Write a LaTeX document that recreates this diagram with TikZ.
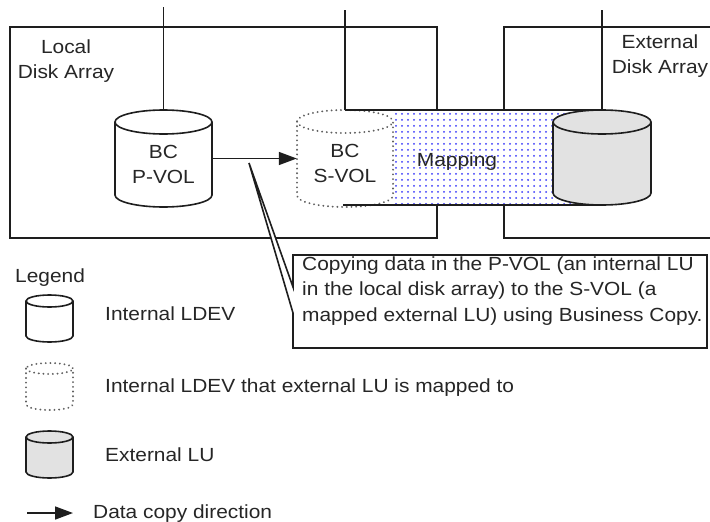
\documentclass[tikz,border=0pt]{standalone}
\usepackage{fontspec}
\setmainfont{Liberation Sans}[FakeStretch=1.1]
\usetikzlibrary{arrows.meta,patterns.meta}
\definecolor{extgray}{RGB}{226,226,226}
\definecolor{dotblue}{RGB}{55,55,250}
\definecolor{lncol}{RGB}{30,30,30}
\definecolor{dotgray}{RGB}{95,95,95}
% cylinder outline: #1 cx, #2 top, #3 bottom, #4 rx, #5 ry, #6 style
\newcommand\drawcyl[6]{%
  \draw[#6] (#1-#4,#2+#5) -- (#1-#4,#3-#5)
    arc[start angle=180,end angle=0,x radius=#4,y radius=#5]
    -- (#1+#4,#2+#5)
    arc[start angle=0,end angle=-180,x radius=#4,y radius=#5] -- cycle;
  \draw[#6,fill=none] (#1-#4,#2+#5)
    arc[start angle=180,end angle=0,x radius=#4,y radius=#5];
}
\begin{document}
\begin{tikzpicture}[x=1pt,y=-1pt,
  every node/.style={font=\fontsize{19}{25.5}\selectfont, text=black!85, inner sep=0pt},
  ln/.style={draw=lncol, line width=1.6pt},
  solidcyl/.style={ln, fill=white},
  extcyl/.style={ln, fill=extgray},
  dotcyl/.style={draw=dotgray, line width=2pt, dash pattern=on 0.1pt off 4.6pt, line cap=round, fill=white},
  cylarea/.style={minimum width=#1, minimum height=97pt, inner sep=0pt},
  arr/.style={ln, -{Triangle[length=18pt,width=13pt]}},
  lbl/.style={anchor=base west},
  mlbl/.style={anchor=north, align=center}
]
\useasboundingbox (0,0) rectangle (710,522);
\fill[white] (0,0) rectangle (710,522);

% disk array boxes
\draw[ln] (10,27) rectangle (437,238);
\draw[ln] (720,27) -- (504,27) -- (504,238) -- (720,238);

% mapping band
\fill[white] (345,110) rectangle (602,205);
\fill[pattern={Dots[distance=6pt,radius=1pt]}, pattern color=dotblue] (393,110) rectangle (602,205);

% S-VOL (dotted)
\drawcyl{345}{110}{207}{48}{11.5}{dotcyl}
\node[cylarea=96pt] (svol) at (345,158.5) {};
\node[mlbl] (svoltxt) at (345,143.7) {BC\\S-VOL};

% band edges
\coordinate (bandtl) at (345,110);
\coordinate (bandtr) at (602,110);
\coordinate (bandbl) at (343,205);
\coordinate (bandbr) at (602,205);
\draw[ln] (bandtl) -- (bandtr);
\draw[ln] (bandbl) -- (bandbr);
\node[anchor=base] (maptxt) at (457,166) {Mapping};

% external LU
\drawcyl{602}{110}{205}{49}{12}{extcyl}
\node[cylarea=98pt, minimum height=95pt] (ext) at (602,157.5) {};

% P-VOL
\drawcyl{163.5}{110}{207}{48.5}{12}{solidcyl}
\node[cylarea=97pt] (pvol) at (163.5,158.5) {};
\node[mlbl] (pvoltxt) at (163.5,144.7) {BC\\P-VOL};

% host lines
\coordinate (h1) at (163.5,7);
\coordinate (h2) at (345,10);
\coordinate (h3) at (602,10);
\draw[ln] (h1) -- (pvol.north);
\draw[ln] (h2) -- (bandtl);
\draw[ln] (h3) -- (bandtr);

% copy arrow
\draw[arr] (pvol.east) -- (svol.west);

% array labels
\node[mlbl] (localtxt) at (66,39.4) {Local\\Disk Array};
\node[mlbl] (exttxt) at (660,34.4) {External\\Disk Array};

% callout
\coordinate (tip) at (249,163);
\draw[ln, fill=white] (293,255) -- (707,255) -- (707,348) -- (293,348) -- (293,313)
  -- (tip) -- (293,287) -- cycle;
\node[anchor=north west, align=left] (calltxt) at (302,256.4)
  {Copying data in the P-VOL (an internal LU\\in the local disk array) to the S-VOL (a\\mapped external LU) using Business Copy.};

% legend
\node[lbl] (legtitle) at (15,282) {Legend};
\drawcyl{49.5}{295}{342}{23.5}{6}{solidcyl}
\node[lbl] (leg1) at (105,320) {Internal LDEV};
\drawcyl{49.5}{363}{410}{23.5}{5.5}{dotcyl}
\node[lbl] (leg2) at (105,392) {Internal LDEV that external LU is mapped to};
\drawcyl{49.5}{431}{478}{23.5}{6}{extcyl}
\node[lbl] (leg3) at (105,461) {External LU};
\coordinate (la1) at (27,513);
\coordinate (la2) at (73,513);
\draw[arr] (la1) -- (la2);
\node[lbl] (leg4) at (93,518) {Data copy direction};
\end{tikzpicture}
\end{document}
